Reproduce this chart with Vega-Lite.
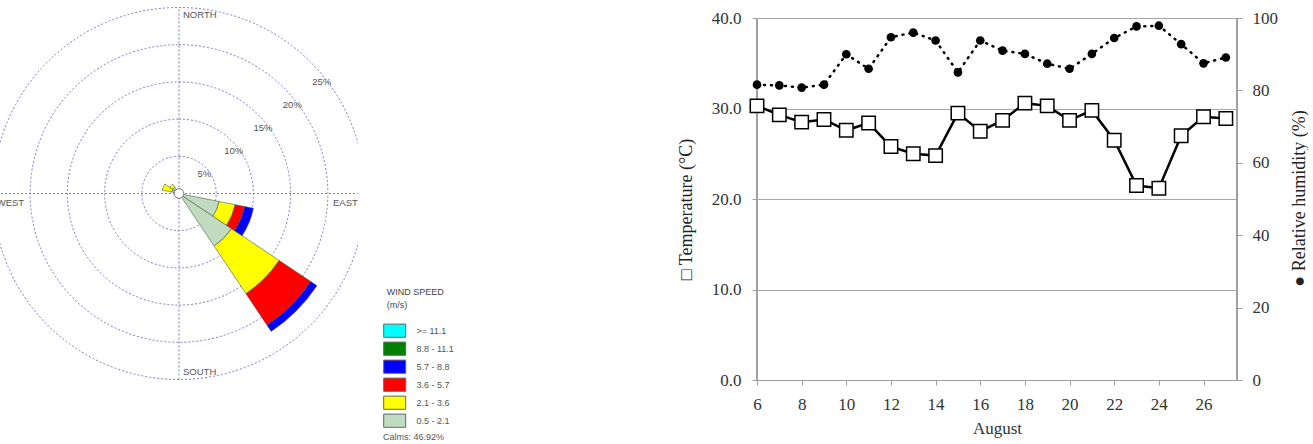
{
  "$schema": "https://vega.github.io/schema/vega-lite/v6.json",
  "padding": 0,
  "background": "white",
  "bounds": "flush",
  "spacing": 399,
  "config": {"view": {"stroke": null}, "font": "Liberation Sans"},
  "hconcat": [
    {
      "width": 358,
      "height": 387,
      "layer": [
        {
          "data": {"values": [{"pct": 5}, {"pct": 10}, {"pct": 15}, {"pct": 20}, {"pct": 25}]},
          "mark": {"type": "arc", "filled": false, "stroke": "#7a7acc", "strokeWidth": 1, "strokeDash": [2, 2], "clip": true},
          "encoding": {
            "theta": {"datum": 0, "type": "quantitative", "stack": null, "scale": {"type": "linear", "domain": [0, 360], "range": [0, 6.283185307179586]}},
            "theta2": {"datum": 360},
            "radius": {"field": "pct", "type": "quantitative", "stack": null, "scale": {"type": "linear", "domain": [0, 25], "range": [0, 186], "zero": true, "nice": false}}
          }
        },
        {
          "data": {"values": [{}]},
          "mark": {"type": "rule", "stroke": "#7a7acc", "strokeWidth": 1, "strokeDash": [2, 2], "clip": true},
          "encoding": {
            "x": {"datum": 0, "type": "quantitative", "scale": {"domain": [-24.06, 24.06], "nice": false, "zero": false}, "axis": null},
            "y": {"datum": -25, "type": "quantitative", "scale": {"domain": [-26.01, 26.01], "nice": false, "zero": false}, "axis": null},
            "y2": {"datum": 25}
          }
        },
        {
          "data": {"values": [{}]},
          "mark": {"type": "rule", "stroke": "#7a7acc", "strokeWidth": 1, "strokeDash": [2, 2], "clip": true},
          "encoding": {
            "x": {"datum": -25, "type": "quantitative"},
            "x2": {"datum": 25},
            "y": {"datum": 0, "type": "quantitative"}
          }
        },
        {
          "data": {"values": [
            {"dir": "SE", "a0": 123.75, "a1": 146.25, "speed": "0.5 - 2.1", "lo": 0, "hi": 8.5},
            {"dir": "SE", "a0": 123.75, "a1": 146.25, "speed": "2.1 - 3.6", "lo": 8.5, "hi": 16.2},
            {"dir": "SE", "a0": 123.75, "a1": 146.25, "speed": "3.6 - 5.7", "lo": 16.2, "hi": 21.3},
            {"dir": "SE", "a0": 123.75, "a1": 146.25, "speed": "5.7 - 8.8", "lo": 21.3, "hi": 22.3},
            {"dir": "ESE", "a0": 101.25, "a1": 123.75, "speed": "0.5 - 2.1", "lo": 0, "hi": 5.5},
            {"dir": "ESE", "a0": 101.25, "a1": 123.75, "speed": "2.1 - 3.6", "lo": 5.5, "hi": 7.7},
            {"dir": "ESE", "a0": 101.25, "a1": 123.75, "speed": "3.6 - 5.7", "lo": 7.7, "hi": 9.0},
            {"dir": "ESE", "a0": 101.25, "a1": 123.75, "speed": "5.7 - 8.8", "lo": 9.0, "hi": 10.2},
            {"dir": "WNW", "a0": 281.25, "a1": 303.75, "speed": "0.5 - 2.1", "lo": 0, "hi": 1.0},
            {"dir": "WNW", "a0": 281.25, "a1": 303.75, "speed": "2.1 - 3.6", "lo": 1.0, "hi": 2.3},
            {"dir": "NW", "a0": 303.75, "a1": 326.25, "speed": "0.5 - 2.1", "lo": 0, "hi": 1.0},
            {"dir": "NW", "a0": 303.75, "a1": 326.25, "speed": "2.1 - 3.6", "lo": 1.0, "hi": 1.5}
          ]},
          "mark": {"type": "arc", "stroke": "#4a5a4a", "strokeWidth": 0.6},
          "encoding": {
            "theta": {"field": "a0", "type": "quantitative", "stack": null},
            "theta2": {"field": "a1"},
            "radius": {"field": "hi", "type": "quantitative", "stack": null},
            "radius2": {"field": "lo"},
            "color": {
              "field": "speed",
              "type": "nominal",
              "scale": {
                "domain": [">= 11.1", "8.8 - 11.1", "5.7 - 8.8", "3.6 - 5.7", "2.1 - 3.6", "0.5 - 2.1"],
                "range": ["#00ffff", "#008000", "#0000ff", "#ff0000", "#ffff00", "#c0dcc0"]
              },
              "legend": {
                "orient": "none",
                "legendX": 386.7,
                "legendY": 287.7,
                "title": ["WIND SPEED", "(m/s)"],
                "titleFont": "Liberation Sans",
                "titleFontSize": 9,
                "titleFontWeight": "normal",
                "titleColor": "#444",
                "titleLineHeight": 13,
                "titlePadding": 13,
                "labelFont": "Liberation Sans",
                "labelFontSize": 9,
                "labelColor": "#555",
                "labelOffset": 13.7,
                "symbolType": "M-1.5,-0.9H1.5V0.9H-1.5Z",
                "symbolSize": 215,
                "symbolStrokeColor": "#666",
                "symbolStrokeWidth": 1,
                "symbolOpacity": 1,
                "rowPadding": 0,
                "padding": 0
              }
            }
          }
        },
        {
          "data": {"values": [{}]},
          "mark": {"type": "arc", "fill": "white", "stroke": "#777", "strokeWidth": 1},
          "encoding": {
            "theta": {"datum": 0, "type": "quantitative", "stack": null},
            "theta2": {"datum": 360},
            "radius": {"datum": 0.65, "type": "quantitative", "stack": null}
          }
        },
        {
          "data": {"values": [{"pct": 5, "label": "5%"}, {"pct": 10, "label": "10%"}, {"pct": 15, "label": "15%"}, {"pct": 20, "label": "20%"}, {"pct": 25, "label": "25%"}]},
          "mark": {"type": "text", "font": "Liberation Sans", "fontSize": 9.5, "color": "#555", "align": "center", "baseline": "middle", "radiusOffset": -5},
          "encoding": {
            "theta": {"datum": 52, "type": "quantitative", "stack": null},
            "radius": {"field": "pct", "type": "quantitative", "stack": null},
            "text": {"field": "label"}
          }
        },
        {
          "data": {"values": [{}]},
          "mark": {"type": "text", "text": "NORTH", "font": "Liberation Sans", "fontSize": 9.5, "color": "#555", "align": "left", "baseline": "middle", "dx": 4},
          "encoding": {"theta": {"datum": 0, "type": "quantitative", "stack": null}, "radius": {"datum": 24, "type": "quantitative", "stack": null}}
        },
        {
          "data": {"values": [{}]},
          "mark": {"type": "text", "text": "SOUTH", "font": "Liberation Sans", "fontSize": 9.5, "color": "#555", "align": "left", "baseline": "middle", "dx": 4},
          "encoding": {"theta": {"datum": 180, "type": "quantitative", "stack": null}, "radius": {"datum": 24, "type": "quantitative", "stack": null}}
        },
        {
          "data": {"values": [{}]},
          "mark": {"type": "text", "text": "EAST", "font": "Liberation Sans", "fontSize": 9.5, "color": "#555", "align": "left", "baseline": "middle", "dy": 9},
          "encoding": {"theta": {"datum": 90, "type": "quantitative", "stack": null}, "radius": {"datum": 20.7, "type": "quantitative", "stack": null}}
        },
        {
          "data": {"values": [{}]},
          "mark": {"type": "text", "text": "WEST", "font": "Liberation Sans", "fontSize": 9.5, "color": "#555", "align": "left", "baseline": "middle", "dy": 9, "clip": true},
          "encoding": {"theta": {"datum": 270, "type": "quantitative", "stack": null}, "radius": {"datum": 24.5, "type": "quantitative", "stack": null}}
        },
        {
          "data": {"values": [{}]},
          "mark": {"type": "text", "text": "Calms: 46.92%", "font": "Liberation Sans", "fontSize": 9, "color": "#555", "align": "left", "baseline": "middle"},
          "encoding": {"x": {"datum": 27.42, "type": "quantitative"}, "y": {"datum": -32.73, "type": "quantitative"}}
        }
      ]
    },
    {
      "width": 480,
      "height": 380,
      "data": {"values": [
        {"day": 6, "temp": 30.3, "rh": 81.6},
        {"day": 7, "temp": 29.3, "rh": 81.4},
        {"day": 8, "temp": 28.5, "rh": 80.8},
        {"day": 9, "temp": 28.8, "rh": 81.6},
        {"day": 10, "temp": 27.6, "rh": 90.0},
        {"day": 11, "temp": 28.4, "rh": 86.0},
        {"day": 12, "temp": 25.8, "rh": 94.7},
        {"day": 13, "temp": 25.0, "rh": 96.0},
        {"day": 14, "temp": 24.8, "rh": 93.8},
        {"day": 15, "temp": 29.5, "rh": 85.0},
        {"day": 16, "temp": 27.5, "rh": 93.8},
        {"day": 17, "temp": 28.7, "rh": 91.0},
        {"day": 18, "temp": 30.6, "rh": 90.1},
        {"day": 19, "temp": 30.3, "rh": 87.4},
        {"day": 20, "temp": 28.7, "rh": 86.0},
        {"day": 21, "temp": 29.8, "rh": 90.1},
        {"day": 22, "temp": 26.5, "rh": 94.5},
        {"day": 23, "temp": 21.5, "rh": 97.7},
        {"day": 24, "temp": 21.2, "rh": 97.9},
        {"day": 25, "temp": 27.0, "rh": 92.8},
        {"day": 26, "temp": 29.1, "rh": 87.5},
        {"day": 27, "temp": 28.9, "rh": 89.1}
      ]},
      "layer": [
        {
          "layer": [
            {
              "mark": {"type": "rule", "color": "#a0a0a0", "strokeWidth": 1},
              "encoding": {
                "x": {"datum": 6, "type": "quantitative"},
                "y": {"datum": 0, "type": "quantitative"},
                "y2": {"datum": 40}
              }
            },
            {
              "mark": {"type": "rule", "color": "#a0a0a0", "strokeWidth": 1},
              "encoding": {
                "x": {"datum": 27.5, "type": "quantitative"},
                "y": {"datum": 0, "type": "quantitative"},
                "y2": {"datum": 40}
              }
            },
            {
              "mark": {"type": "line", "color": "black", "strokeWidth": 2.5},
              "encoding": {
                "x": {
                  "field": "day", "type": "quantitative",
                  "scale": {"domain": [6, 27.5], "nice": false, "zero": false},
                  "axis": {
                    "values": [6, 8, 10, 12, 14, 16, 18, 20, 22, 24, 26],
                    "grid": false,
                    "domainColor": "#a0a0a0",
                    "tickColor": "#a0a0a0",
                    "tickSize": 5,
                    "labelFont": "Liberation Serif",
                    "labelFontSize": 17,
                    "labelColor": "#333",
                    "labelPadding": 11,
                    "labelFlush": false,
                    "labelOverlap": false,
                    "title": "August",
                    "titleFont": "Liberation Serif",
                    "titleFontSize": 17,
                    "titleFontWeight": "normal",
                    "titleColor": "#333",
                    "titlePadding": 8
                  }
                },
                "y": {
                  "field": "temp", "type": "quantitative",
                  "scale": {"domain": [0, 42], "nice": false, "zero": true},
                  "axis": {
                    "orient": "left",
                    "values": [0, 10, 20, 30, 40],
                    "format": ".1f",
                    "grid": true,
                    "gridColor": "#a6a6a6",
                    "gridWidth": 1,
                    "domain": false,
                    "ticks": true,
                    "tickSize": 5,
                    "tickColor": "#a0a0a0",
                    "labelFont": "Liberation Serif",
                    "labelFontSize": 17,
                    "labelColor": "#333",
                    "labelPadding": 11,
                    "title": "□ Temperature (°C)",
                    "titleFont": "Liberation Serif",
                    "titleFontSize": 18,
                    "titleFontWeight": "normal",
                    "titleColor": "#222",
                    "titleAngle": -90,
                    "titleAlign": "center",
                    "titleBaseline": "middle",
                    "titleX": -71,
                    "titleY": 209
                  }
                }
              }
            },
            {
              "mark": {"type": "point", "shape": "square", "size": 180, "filled": true, "fill": "white", "stroke": "black", "strokeWidth": 1.5, "opacity": 1},
              "encoding": {
                "x": {"field": "day", "type": "quantitative"},
                "y": {"field": "temp", "type": "quantitative"}
              }
            }
          ]
        },
        {
          "layer": [
            {
              "mark": {"type": "line", "color": "black", "strokeWidth": 2.5, "strokeDash": [1, 6], "strokeCap": "round"},
              "encoding": {
                "x": {"field": "day", "type": "quantitative"},
                "y": {
                  "field": "rh", "type": "quantitative",
                  "scale": {"domain": [0, 105], "nice": false, "zero": true},
                  "axis": {
                    "orient": "right",
                    "values": [0, 20, 40, 60, 80, 100],
                    "grid": false,
                    "domain": false,
                    "ticks": true,
                    "tickSize": 5,
                    "tickColor": "#a0a0a0",
                    "labelFont": "Liberation Serif",
                    "labelFontSize": 17,
                    "labelColor": "#333",
                    "labelPadding": 10,
                    "title": "● Relative humidity (%)",
                    "titleFont": "Liberation Serif",
                    "titleFontSize": 18,
                    "titleFontWeight": "normal",
                    "titleColor": "#222",
                    "titleAngle": -90,
                    "titleAlign": "center",
                    "titleBaseline": "middle",
                    "titleX": 62,
                    "titleY": 198
                  }
                }
              }
            },
            {
              "mark": {"type": "point", "shape": "circle", "size": 75, "filled": true, "color": "black", "opacity": 1},
              "encoding": {
                "x": {"field": "day", "type": "quantitative"},
                "y": {"field": "rh", "type": "quantitative"}
              }
            }
          ]
        }
      ],
      "resolve": {"scale": {"y": "independent"}}
    }
  ]
}
